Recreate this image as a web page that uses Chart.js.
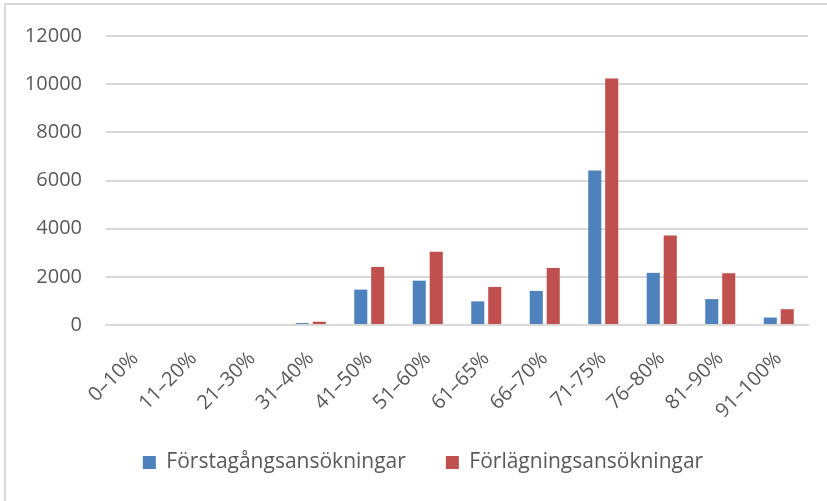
<!DOCTYPE html>
<html>
<head>
<meta charset="utf-8">
<script src="https://cdn.jsdelivr.net/npm/chart.js@4/dist/chart.umd.min.js"></script>
<style>
  html, body { margin: 0; padding: 0; background: #fff; }
  #frame { position: absolute; left: 4px; top: 3px; width: 900px; height: 600px;
           border-left: 2px solid #d9d9d9; border-top: 2px solid #d9d9d9; }
  #wrap { position: absolute; left: 0; top: 0; width: 827px; height: 501px; }
</style>
</head>
<body>
<div id="frame"></div>
<div id="wrap"><canvas id="distChart"></canvas></div>
<script>
// === DATA ===
const categories = ['0–10%', '11–20%', '21–30%', '31–40%', '41–50%', '51–60%', '61–65%', '66–70%', '71-75%', '76–80%', '81–90%', '91–100%'];
const forstagang = [0, 0, 0, 80, 1470, 1840, 980, 1415, 6420, 2165, 1075, 310];
const forlangning = [0, 0, 0, 135, 2410, 3045, 1580, 2370, 10240, 3715, 2150, 655];
const yTicks = [0, 2000, 4000, 6000, 8000, 10000, 12000];

const COLORS = { blue: '#4f81bd', red: '#c0504d', text: '#595959', grid: '#d9d9d9' };
const TICK_FONT = { family: '"Open Sans", sans-serif', size: 20 };
const LEGEND_FONT = { family: '"Open Sans", sans-serif', size: 21 };

// legend sits a bit right of the plot centre; rotated x labels need room below the axis box
const layoutTweaks = {
    id: 'layoutTweaks',
    afterLayout: chart => {
        if (chart.legend) { chart.legend.left += 19; chart.legend.right += 19; }
        chart.scales.x.bottom += 20;
    }
};

const ctx = document.getElementById('distChart').getContext('2d');
new Chart(ctx, {
    type: 'bar',
    data: {
        labels: categories,
        datasets: [
            { label: 'Förstagångsansökningar', data: forstagang, backgroundColor: COLORS.blue, categoryPercentage: 0.58, barPercentage: 0.77 },
            { label: 'Förlägningsansökningar', data: forlangning, backgroundColor: COLORS.red, categoryPercentage: 0.58, barPercentage: 0.77 }
        ]
    },
    options: {
        responsive: true, maintainAspectRatio: false, animation: false,
        layout: { padding: { left: 0, right: 19, top: 30, bottom: 18 } },
        plugins: {
            legend: {
                position: 'bottom',
                labels: { color: COLORS.text, font: LEGEND_FONT, boxWidth: 13, boxHeight: 13, padding: 40 }
            },
            tooltip: { enabled: false }
        },
        scales: {
            x: {
                grid: { display: false },
                border: { color: COLORS.grid, width: 2 },
                ticks: { color: COLORS.text, font: TICK_FONT, minRotation: 45, maxRotation: 45, padding: 14 },
                afterFit: s => { s.height = 87; }
            },
            y: {
                min: 0, max: 12000,
                afterBuildTicks: s => { s.ticks = yTicks.map(v => ({ value: v })); },
                grid: { color: COLORS.grid, lineWidth: 2, drawTicks: false },
                border: { display: false },
                ticks: { color: COLORS.text, font: TICK_FONT, padding: 24, callback: v => String(v) },
                afterFit: s => { s.width = 106; }
            }
        }
    },
    plugins: [layoutTweaks]
});
</script>
</body>
</html>
